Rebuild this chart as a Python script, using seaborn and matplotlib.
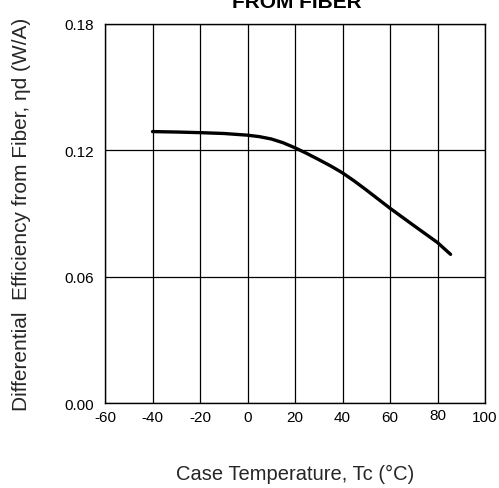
import matplotlib
matplotlib.use("Agg")
import matplotlib.pyplot as plt
import matplotlib.transforms as mtransforms
import seaborn as sns
import pandas as pd

# data
temps = [-40, -30, -20, -10, 0, 5, 10, 15, 20, 25, 30, 35, 40, 45, 50, 60, 70, 80, 85.5]
eff = [0.1289, 0.1287, 0.1284, 0.1280, 0.1272, 0.1265, 0.1254, 0.1236, 0.1212, 0.1185, 0.1156, 0.1126, 0.1093, 0.1054, 0.1012, 0.0925, 0.0843, 0.0762, 0.0706]
xticks = [-60, -40, -20, 0, 20, 40, 60, 80, 100]
yticks = [0.00, 0.06, 0.12, 0.18]

sns.set_style("white")
plt.rcParams['font.family'] = ['Liberation Sans', 'DejaVu Sans']

df = pd.DataFrame({"T": temps, "eta": eff})

fig = plt.figure(figsize=(4.99, 4.89), dpi=100)
ax = fig.add_axes([105/499, 1 - 404/489, 380/499, 379/489])
sns.lineplot(data=df, x="T", y="eta", ax=ax, color="black", linewidth=2.4)

ax.set_xlim(-60, 100)
ax.set_ylim(0, 0.18)
ax.set_xticks(xticks)
ax.set_xticklabels([str(t) for t in xticks])
ax.set_yticks(yticks)
ax.set_yticklabels([f"{v:.2f}" for v in yticks])
ax.grid(True, color="black", linewidth=0.9)
for s in ax.spines.values():
    s.set_color("black")
    s.set_linewidth(1.0)
ax.tick_params(axis="x", length=0, labelsize=11, colors="black", pad=5)
ax.tick_params(axis="y", length=0, labelsize=11, colors="black", pad=8)
ax.set_xlabel("Case Temperature, Tc (°C)", fontsize=14.5, labelpad=29)
ax.set_ylabel("Differential  Efficiency from Fiber, ηd (W/A)", fontsize=15, labelpad=24)

# "80" label sits slightly higher in the reference
lbl80 = ax.get_xticklabels()[xticks.index(80)]
lbl80.set_transform(lbl80.get_transform() + mtransforms.ScaledTranslation(0, 2/100, fig.dpi_scale_trans))

fig.text(297/499, 1 - 8/489, "FROM FIBER", ha="center", va="baseline",
         fontsize=15, fontweight="bold", color="black")

fig.savefig("out.png", dpi=100)
